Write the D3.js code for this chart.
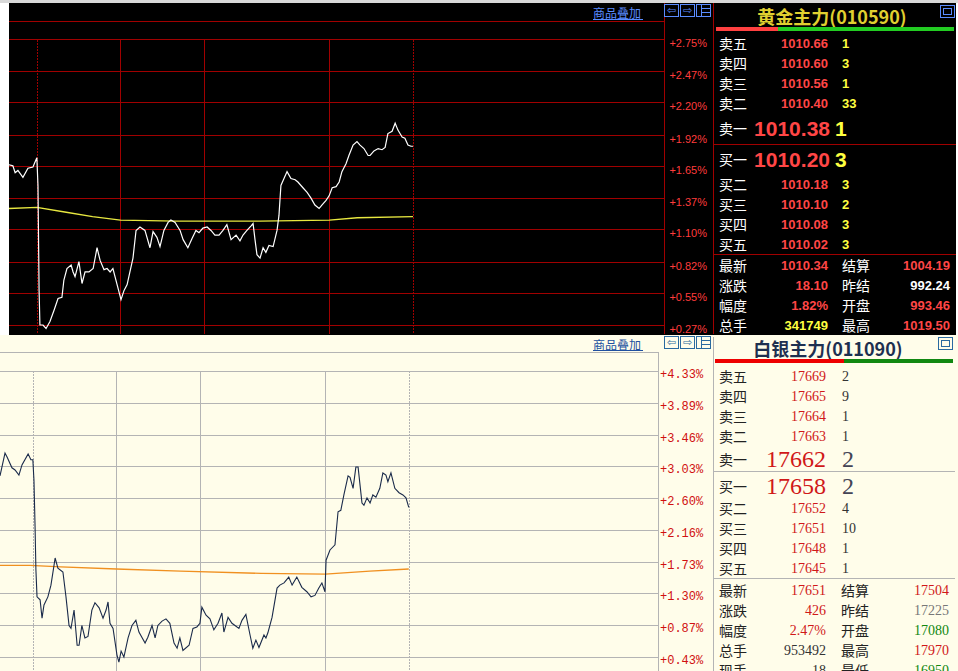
<!DOCTYPE html>
<html><head><meta charset="utf-8">
<script src="https://cdn.jsdelivr.net/npm/d3@7/dist/d3.min.js"></script>
<style>body{margin:0;background:#fff;overflow:hidden}svg{display:block}</style>
</head><body><svg id="c" width="958" height="671"></svg>
<script>
// ---- data ----
const gridTimes=[10,40,70,115,145];
const goldTicks=[2.75,2.47,2.20,1.92,1.65,1.37,1.10,0.82,0.55,0.27];
const silverTicks=[4.33,3.89,3.46,3.03,2.60,2.16,1.73,1.30,0.87,0.43];
const goldT=[0,1.4,2.2,3.2,5,6.8,8.6,10,10.4,10.8,11.1,12.2,13.3,14.7,16.2,17.6,19,19.7,20.8,22.3,23,23.7,25.1,26.2,27.3,28.7,30.2,31.6,32.7,34.1,35.2,36.3,37.3,38.8,40.2,41.3,42.4,43.4,44.5,45.6,47,48.8,50.6,51.7,53.1,54.2,55.6,57.1,58.1,59.6,61.4,62.5,64.2,65.7,67.1,68.2,69.6,71.1,72.5,73.9,75.4,76.8,78.2,79.7,81.5,82.9,84,85.4,86.9,87.6,88.3,89,90.1,91.2,92.2,93.3,94.8,96.2,96.9,97.6,98.7,99.8,101.2,102.7,103.7,105.5,107,108.4,109.8,111.3,112.3,113.8,114.9,116,117.4,118.5,119.5,121,122,123.5,124.9,126,127.4,128.9,129.6,131,132.5,133.9,135,136,137.5,138.6,139.6,141.1,142.1,143.2,144.3,145];
const goldPct=[1.66,1.65,1.59,1.61,1.55,1.63,1.64,1.72,1.48,0.57,0.27,0.27,0.24,0.30,0.40,0.50,0.51,0.66,0.76,0.79,0.73,0.69,0.82,0.63,0.73,0.73,0.76,0.94,0.83,0.75,0.76,0.73,0.76,0.62,0.49,0.57,0.62,0.73,0.85,1.09,1.12,1.09,0.94,1.08,1.03,0.95,1.09,1.16,1.18,1.16,1.09,1.01,0.94,1.02,1.09,1.07,1.11,1.12,1.09,1.05,1.05,1.09,1.14,1.01,1.05,1.00,1.05,1.09,1.13,1.15,1.01,0.88,0.85,0.94,0.90,0.96,0.95,1.09,1.22,1.48,1.54,1.60,1.54,1.53,1.51,1.46,1.42,1.37,1.31,1.28,1.31,1.35,1.39,1.46,1.47,1.51,1.60,1.67,1.74,1.83,1.86,1.83,1.80,1.74,1.74,1.78,1.80,1.79,1.81,1.93,1.95,2.02,1.96,1.90,1.89,1.83,1.82,1.82];
const goldAvgT=[0,10,20,30,40,60,90,115,125,145];
const goldAvgPct=[1.28,1.29,1.25,1.21,1.18,1.17,1.17,1.18,1.20,1.21];
const silverT=[-1.8,0,0.7,2.5,3.6,5,6.1,8.3,9.3,10,10.4,10.8,11.1,11.5,12.6,13.3,14,15.4,16.5,17.6,18,19,20.8,21.9,23,23.7,24.8,25.9,26.6,27.6,28.7,29.8,31.2,32.3,33.8,35.2,36.3,37,37.7,38.8,40.2,40.9,41.7,42.7,44.2,45.6,47,48.1,50.3,51.3,52.8,53.9,54.9,56.4,57.8,59.2,60.7,61.8,62.8,63.9,66.1,67.5,68.9,70,70.7,72.2,73.6,75,76.5,77.9,78.6,80.1,81.5,82.6,84,85.1,86.5,88,89,90.1,91.2,93,93.7,94.4,95.9,97.7,98.7,100.2,101.9,103.1,104.8,106.6,108.4,109.9,111.3,112.7,113.8,114.9,115.3,116.7,118.5,119.6,120.6,121.7,123.2,123.9,125,126,126.8,128.2,128.9,130,131.1,132.1,133.2,134.6,135.7,136.8,137.5,138.6,140,141.5,142.9,144,145];
const silverPct=[2.90,3.21,3.16,3.01,2.98,2.91,3.05,3.20,3.12,3.12,2.84,2.20,1.62,1.25,1.21,0.96,1.14,1.25,1.41,1.68,1.78,1.64,1.59,1.25,0.86,0.82,1.07,0.59,0.59,0.86,0.69,0.71,1.07,1.17,1.10,0.96,1.07,1.18,0.89,0.82,0.46,0.36,0.51,0.43,0.69,0.86,0.93,0.77,0.62,0.70,0.86,0.69,0.86,0.92,0.95,0.89,0.62,0.55,0.69,0.52,0.59,0.82,0.84,0.89,1.11,1.00,0.95,0.80,0.89,1.03,0.77,0.97,0.89,0.86,0.82,0.93,1.01,0.73,0.55,0.66,0.56,0.73,0.69,0.76,0.97,1.37,1.41,1.44,1.52,1.41,1.52,1.38,1.32,1.25,1.27,1.37,1.44,1.32,1.75,1.89,1.96,2.41,2.43,2.64,2.90,2.88,2.73,3.02,3.02,2.53,2.50,2.60,2.53,2.64,2.61,2.73,2.94,2.91,2.82,2.94,2.73,2.67,2.64,2.60,2.47];
const silverAvgT=[-1.8,9,20,40,63,92,115,131,145];
const silverAvgPct=[1.68,1.68,1.66,1.63,1.60,1.57,1.56,1.60,1.63];
const goldAsk=[["卖五","1010.66","1"],["卖四","1010.60","3"],["卖三","1010.56","1"],["卖二","1010.40","33"]];
const goldAsk1=["卖一","1010.38","1"], goldBid1=["买一","1010.20","3"];
const goldBid=[["买二","1010.18","3"],["买三","1010.10","2"],["买四","1010.08","3"],["买五","1010.02","3"]];
const goldStats=[["最新","1010.34","结算","1004.19"],["涨跌","18.10","昨结","992.24"],["幅度","1.82%","开盘","993.46"],["总手","341749","最高","1019.50"]];
const silverAsk=[["卖五","17669","2"],["卖四","17665","9"],["卖三","17664","1"],["卖二","17663","1"]];
const silverAsk1=["卖一","17662","2"], silverBid1=["买一","17658","2"];
const silverBid=[["买二","17652","4"],["买三","17651","10"],["买四","17648","1"],["买五","17645","1"]];
const silverStats=[["最新","17651","结算","17504"],["涨跌","426","昨结","17225"],["幅度","2.47%","开盘","17080"],["总手","953492","最高","17970"],["现手","18","最低","16950"]];

const svg=d3.select("#c");
const CJK="'Noto Sans CJK SC',sans-serif";
function rect(x,y,w,h,f,s){return svg.append("rect").attr("x",x).attr("y",y).attr("width",w).attr("height",h).attr("fill",f||"none").attr("stroke",s||"none");}
function line(x1,y1,x2,y2,c,dash){svg.append("line").attr("x1",x1).attr("y1",y1).attr("x2",x2).attr("y2",y2).attr("stroke",c).attr("stroke-dasharray",dash||null).attr("shape-rendering","crispEdges");}
function text(x,y,t,o){const e=svg.append("text").attr("x",x).attr("y",y).text(t).attr("font-family",o.f||CJK).attr("font-size",o.s||13).attr("fill",o.c).attr("text-anchor",o.a||"start").attr("dominant-baseline","central");if(o.w)e.attr("font-weight",o.w);return e;}
function icons(y,color){[[664,"⇦"],[680,"⇨"],[696,""]].forEach(([x,t],i)=>{rect(x+0.5,y+0.5,14,12,"none",color);if(i<2)text(x+7.5,y+6.5,t,{c:color,s:11,a:"middle",f:"DejaVu Sans"});else{line(x+5,y,x+5,y+13,color);line(x+5,y+4,x+14,y+4,color);line(x+5,y+8,x+14,y+8,color);}});}

// ===== GOLD (top) =====
rect(0,0,958,3,"#d8d8d8");
rect(9,3,947,332,"#000");
const gx=d3.scaleLinear().domain([0,235.1]).range([9,664]);
const gy=d3.scaleLinear().domain([2.75,0.27]).range([39,325]);
const red="#a00000";
line(9,21.5,664,21.5,red);
goldTicks.forEach(v=>line(9,Math.round(gy(v))+.5,664,Math.round(gy(v))+.5,red));
gridTimes.forEach((t,i)=>line(Math.round(gx(t))+.5,40,Math.round(gx(t))+.5,334,red,(i==0||i==4)?"2,1":null));
line(664.5,3,664.5,334,red); line(713.5,3,713.5,334,red);
goldTicks.forEach(v=>text(707,gy(v)+4,"+"+v.toFixed(2)+"%",{c:"#ff3c3c",s:11,a:"end",f:"Arial,'Liberation Sans'"}));
text(593,12,"商品叠加",{c:"#5a8cff",s:12});line(593,19.5,643,19.5,"#5a8cff");
icons(4,"#5a8cff");
const lg=d3.line().x(d=>gx(d[0])).y(d=>gy(d[1]));
svg.append("path").attr("d",lg(goldAvgT.map((t,i)=>[t,goldAvgPct[i]]))).attr("fill","none").attr("stroke","#e8e840").attr("stroke-width",1.3);
svg.append("path").attr("d",lg(goldT.map((t,i)=>[t,goldPct[i]]))).attr("fill","none").attr("stroke","#fff").attr("stroke-width",1.2);
// gold panel
text(832,16,"黄金主力(010590)",{c:"#e0d030",s:18,a:"middle",w:"bold",f:"'Noto Sans CJK SC','DejaVu Serif',serif"});
rect(940.5,5.5,14,12,"none","#5a8cff");rect(943.5,8.5,8,6,"none","#5a8cff");
rect(716,27,62,4,"#ff4040");rect(778,27,176,4,"#22cc22");
const gr="#ff4646",gyel="#ffff40";
goldAsk.forEach((r,i)=>{const y=43+i*20;text(719,y,r[0],{c:"#fff",s:14});text(828,y,r[1],{c:gr,s:13,a:"end",w:"bold",f:"Arial,'Liberation Sans'"});text(842,y,r[2],{c:gyel,s:13,w:"bold",f:"Arial,'Liberation Sans'"});});
text(719,128,goldAsk1[0],{c:"#fff",s:14});text(830,128,goldAsk1[1],{c:gr,s:21,a:"end",w:"bold",f:"Arial,'Liberation Sans'"});text(835,128,goldAsk1[2],{c:gyel,s:21,w:"bold",f:"Arial,'Liberation Sans'"});
line(714,144.5,956,144.5,red);
text(719,159,goldBid1[0],{c:"#fff",s:14});text(830,159,goldBid1[1],{c:gr,s:21,a:"end",w:"bold",f:"Arial,'Liberation Sans'"});text(835,159,goldBid1[2],{c:gyel,s:21,w:"bold",f:"Arial,'Liberation Sans'"});
goldBid.forEach((r,i)=>{const y=184+i*20;text(719,y,r[0],{c:"#fff",s:14});text(828,y,r[1],{c:gr,s:13,a:"end",w:"bold",f:"Arial,'Liberation Sans'"});text(842,y,r[2],{c:gyel,s:13,w:"bold",f:"Arial,'Liberation Sans'"});});
line(714,254.5,956,254.5,red);
const gsc=[[gr,gr],[gr,"#fff"],[gr,gr],[gyel,gr]];
goldStats.forEach((r,i)=>{const y=265+i*20;text(719,y,r[0],{c:"#fff",s:14});text(828,y,r[1],{c:gsc[i][0],s:13,a:"end",w:"bold",f:"Arial,'Liberation Sans'"});text(842,y,r[2],{c:"#fff",s:14});text(950,y,r[3],{c:gsc[i][1],s:13,a:"end",w:"bold",f:"Arial,'Liberation Sans'"});});

// ===== SILVER (bottom) =====
rect(0,335,958,336,"#fffdea");
const sx=d3.scaleLinear().domain([0,234.5]).range([5,658]);
const sy=d3.scaleLinear().domain([4.33,0.43]).range([371,657]);
const gray="#b4b4b4";
line(0,352.5,658,352.5,gray);
silverTicks.forEach(v=>line(0,Math.round(sy(v))+.5,658,Math.round(sy(v))+.5,gray));
gridTimes.forEach((t,i)=>line(Math.round(sx(t))+.5,371,Math.round(sx(t))+.5,671,gray,(i==0||i==4)?"2,1":null));
line(658.5,352,658.5,671,gray);line(713.5,337,713.5,671,gray);
silverTicks.forEach(v=>text(660,sy(v)+4,"+"+v.toFixed(2)+"%",{c:"#d01010",s:12,f:"'Liberation Mono','DejaVu Sans Mono',monospace"}));
text(593,344,"商品叠加",{c:"#2050a0",s:12});line(593,350.5,643,350.5,"#2050a0");
icons(336,"#2a6aa0");
const ls=d3.line().x(d=>sx(d[0])).y(d=>sy(d[1]));
svg.append("path").attr("d",ls(silverAvgT.map((t,i)=>[t,silverAvgPct[i]]))).attr("fill","none").attr("stroke","#f09020").attr("stroke-width",1.3);
svg.append("path").attr("d",ls(silverT.map((t,i)=>[t,silverPct[i]]))).attr("fill","none").attr("stroke","#1a2a4a").attr("stroke-width",1.1);
text(828,348,"白银主力(011090)",{c:"#1e3050",s:18,a:"middle",w:"bold",f:"'Noto Sans CJK SC','DejaVu Serif',serif"});
rect(938.5,337.5,14,12,"none","#2a6aa0");rect(941.5,340.5,8,6,"none","#2a6aa0");
rect(715,359,129,4,"#ee0000");rect(844,359,109,4,"#118811");
const sr="#d01818",sd="#333",NF="'Liberation Serif','DejaVu Serif',serif";
silverAsk.forEach((r,i)=>{const y=376+i*20;text(719,y,r[0],{c:"#222",s:14});text(826,y,r[1],{c:sr,s:14,a:"end",f:NF});text(842,y,r[2],{c:sd,s:14,f:NF});});
text(719,459,silverAsk1[0],{c:"#222",s:14});text(826,459,silverAsk1[1],{c:sr,s:24,a:"end",f:NF});text(842,459,silverAsk1[2],{c:"#445",s:24,f:NF});
line(714,471.5,955,471.5,gray);
text(719,486,silverBid1[0],{c:"#222",s:14});text(826,486,silverBid1[1],{c:sr,s:24,a:"end",f:NF});text(842,486,silverBid1[2],{c:"#445",s:24,f:NF});
silverBid.forEach((r,i)=>{const y=508+i*20;text(719,y,r[0],{c:"#222",s:14});text(826,y,r[1],{c:sr,s:14,a:"end",f:NF});text(842,y,r[2],{c:sd,s:14,f:NF});});
line(714,578.5,955,578.5,gray);
const ssc=[[sr,sr],[sr,"#777"],[sr,"#118811"],[sd,sr],[sd,"#118811"]];
silverStats.forEach((r,i)=>{const y=590+i*20;text(719,y,r[0],{c:"#222",s:14});text(826,y,r[1],{c:ssc[i][0],s:14,a:"end",f:NF});text(841,y,r[2],{c:"#222",s:14});text(949,y,r[3],{c:ssc[i][1],s:14,a:"end",f:NF});});
</script></body></html>
